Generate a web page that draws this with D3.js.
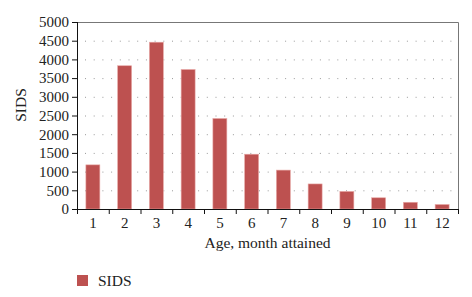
<!DOCTYPE html>
<html>
<head>
<meta charset="utf-8">
<script src="https://cdn.jsdelivr.net/npm/d3@7"></script>
<style>
  body { margin: 0; background: #fff; }
  svg text { font-family: "Liberation Serif", "DejaVu Serif", serif; fill: #222; }
</style>
</head>
<body>
<div id="chart"></div>
<script>
const months = ["1", "2", "3", "4", "5", "6", "7", "8", "9", "10", "11", "12"];
const sids = [1180, 3830, 4460, 3730, 2420, 1465, 1040, 670, 470, 300, 180, 120];
const yTicks = [0, 500, 1000, 1500, 2000, 2500, 3000, 3500, 4000, 4500, 5000];

const width = 472, height = 297;
const margin = { top: 22, right: 14, bottom: 88, left: 77 };
const innerW = width - margin.left - margin.right;
const innerH = height - margin.top - margin.bottom;

const svg = d3.select("#chart").append("svg")
    .attr("width", width)
    .attr("height", height);

const g = svg.append("g")
    .attr("transform", `translate(${margin.left},${margin.top})`);

const x = d3.scaleBand().domain(months).range([0, innerW]).paddingInner(0.56).paddingOuter(0.28);
const y = d3.scaleLinear().domain([0, 5000]).range([innerH, 0]);

// dotted grid
g.selectAll("line.grid")
    .data(yTicks.filter(d => d > 0 && d < 5000))
    .enter()
    .append("line")
    .attr("class", "grid")
    .attr("x1", 8).attr("x2", innerW)
    .attr("y1", d => y(d) + 0.5).attr("y2", d => y(d) + 0.5)
    .attr("stroke", "#999")
    .attr("stroke-width", 1)
    .attr("stroke-dasharray", "1,7.7");

// frame top + right
g.append("path")
    .attr("d", `M-4,0.5H${innerW + 0.5}V${innerH}`)
    .attr("fill", "none")
    .attr("stroke", "#777")
    .attr("stroke-width", 1);

// bars
g.selectAll("rect.bar")
    .data(sids)
    .enter()
    .append("rect")
    .attr("class", "bar")
    .attr("x", (d, i) => x(months[i]))
    .attr("y", d => y(d))
    .attr("width", x.bandwidth())
    .attr("height", d => innerH - y(d))
    .attr("fill", "#bd5150")
    .attr("stroke", "#e8a8a6")
    .attr("stroke-width", 0.6);

// y axis
const yAxis = d3.axisLeft(y).tickValues(yTicks).tickFormat(d3.format("d")).tickSize(5).tickPadding(3);
const ya = g.append("g").call(yAxis);
ya.select(".domain").attr("stroke", "#111").attr("d", `M0.5,0V${innerH}`);
ya.selectAll(".tick line").attr("stroke", "#111");
ya.selectAll("text").style("font-size", "15px").attr("fill", "#222");

// x axis: ticks at band boundaries
const xa = g.append("g").attr("transform", `translate(0,${innerH})`);
xa.append("line")
    .attr("x1", 0).attr("x2", innerW + 1)
    .attr("y1", 0.5).attr("y2", 0.5)
    .attr("stroke", "#111");
const bounds = d3.range(months.length + 1).map(i => i * x.step());
xa.selectAll("line.tk")
    .data(bounds)
    .enter()
    .append("line")
    .attr("class", "tk")
    .attr("x1", d => d + 0.5).attr("x2", d => d + 0.5)
    .attr("y1", 0).attr("y2", 5)
    .attr("stroke", "#111");
xa.selectAll("text")
    .data(months)
    .enter()
    .append("text")
    .attr("x", d => x(d) + x.bandwidth() / 2)
    .attr("y", 19)
    .attr("text-anchor", "middle")
    .style("font-size", "15px")
    .text(d => d);

// axis titles
svg.append("text")
    .attr("transform", `translate(26,105) rotate(-90)`)
    .attr("text-anchor", "middle")
    .style("font-size", "15.5px")
    .text("SIDS");

svg.append("text")
    .attr("x", margin.left + innerW / 2)
    .attr("y", 248)
    .attr("text-anchor", "middle")
    .style("font-size", "15.5px")
    .text("Age, month attained");

// legend
svg.append("rect")
    .attr("x", 77).attr("y", 275)
    .attr("width", 11).attr("height", 11)
    .attr("fill", "#bd5150");
svg.append("text")
    .attr("x", 98).attr("y", 286)
    .style("font-size", "15.5px")
    .text("SIDS");
</script>
</body>
</html>
